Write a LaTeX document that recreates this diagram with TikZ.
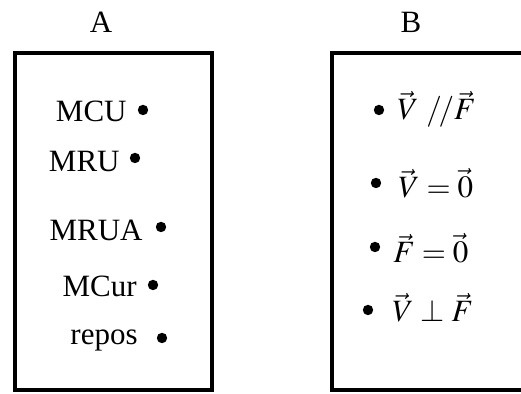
\documentclass[tikz,border=0pt]{standalone}
\usepackage{mathptmx}
\usepackage{fontspec}
\setmainfont{Liberation Serif}

\begin{document}
\begin{tikzpicture}[x=0.5pt,y=-0.5pt,
  box/.style={line width=1.6pt},
  lbl/.style={font=\fontsize{15.5}{18}\selectfont,inner sep=0pt},
  pt/.style={circle,fill,inner sep=0pt,minimum size=5.2pt}]
\clip (0,0) rectangle (521,394);
% the two boxes
\draw[box] (15,53) rectangle (212,390);
\draw[box] (332,53) rectangle (540,390);
\node[lbl,anchor=base] (A) at (101,33) {A};
\node[lbl,anchor=base] (B) at (411,33) {B};
% column A
\node[lbl,anchor=base east] (mcu) at (127,122) {MCU};
\node[pt] (mcudot) at (143,110) {};
\node[lbl,anchor=base east] (mru) at (120,172) {MRU};
\node[pt] (mrudot) at (135,158) {};
\node[lbl,anchor=base east] (mrua) at (143,241) {MRUA};
\node[pt] (mruadot) at (161,227) {};
\node[lbl,anchor=base east] (mcur) at (137,297) {MCur};
\node[pt] (mcurdot) at (153,285) {};
\node[lbl,anchor=base east] (repos) at (138,345) {repos};
\node[pt] (reposdot) at (162,338) {};
% column B
\node[pt] (vfdot) at (379,110) {};
\node[lbl,anchor=base west] (vf) at (397,120) {$\vec{V}\ /\!/\vec{F}$};
\node[pt] (vzdot) at (376,183) {};
\node[lbl,anchor=base west] (vz) at (398,198) {$\vec{V}=\vec{0}$};
\node[pt] (fzdot) at (375,247) {};
\node[lbl,anchor=base west] (fz) at (393,263) {$\vec{F}=\vec{0}$};
\node[pt] (vpdot) at (368,310) {};
\node[lbl,anchor=base west] (vp) at (392,322) {$\vec{V}\perp\vec{F}$};
\end{tikzpicture}
\end{document}
